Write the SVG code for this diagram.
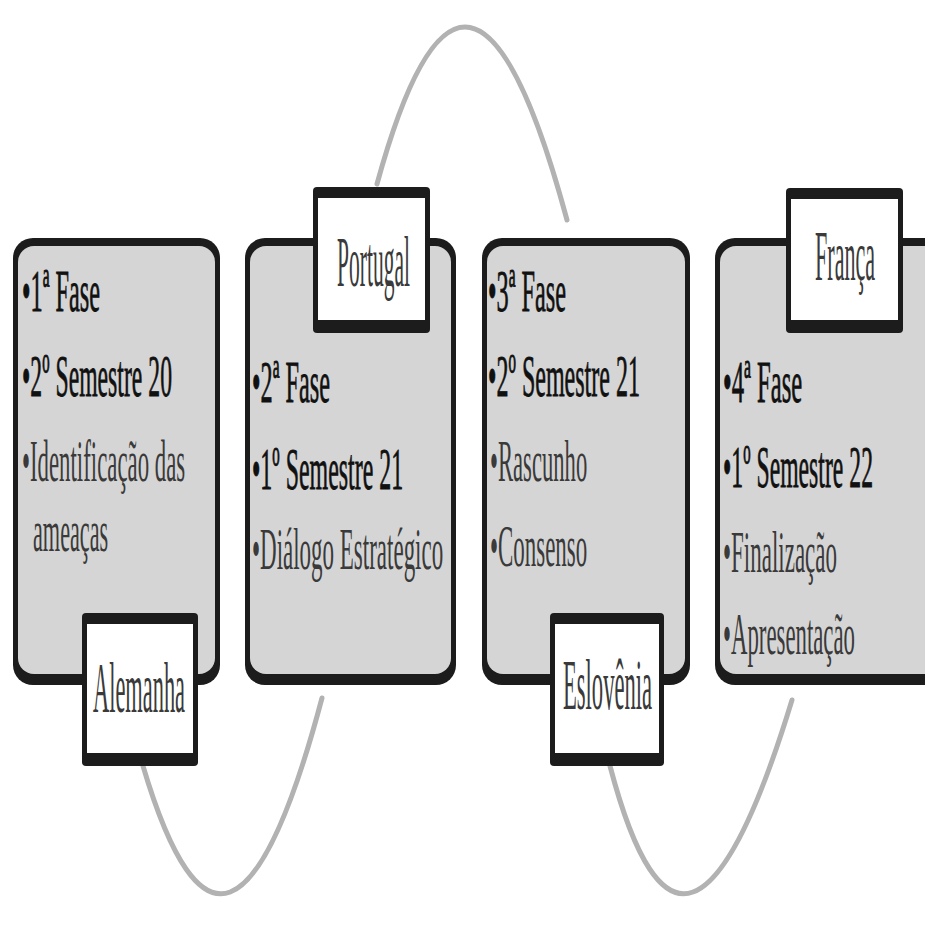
<svg xmlns="http://www.w3.org/2000/svg" width="925" height="933" viewBox="0 0 925 933">
<style>
.outer{fill:#1c1c1c}
.inner{fill:#d5d5d5}
.lab{fill:#ffffff}
.arc{fill:none;stroke:#b2b2b2;stroke-width:5;stroke-linecap:round}
.t{font-family:"Liberation Serif","Times New Roman",serif;font-size:60px}
.b{fill:#111111;stroke:#111111;stroke-width:0.8}
.n{fill:#3a3a3a}
.lt{font-family:"Liberation Serif","Times New Roman",serif;font-size:72px;fill:#3a3a3a}
</style>
<rect width="925" height="933" fill="#ffffff"/>
<g id="connectors">
<path class="arc" d="M143,766 Q228,1052 322,698"/>
<path class="arc" d="M377,184 Q468,-147 567,220"/>
<path class="arc" d="M610,766 Q685,1051 792,700"/>
</g>
<g id="fase1">
<rect class="outer" x="13" y="238" width="207" height="447" rx="20"/>
<rect class="inner" x="18" y="246" width="197" height="428" rx="16"/>
<text class="t b" transform="translate(22,311) scale(0.4,1)" textLength="195" lengthAdjust="spacingAndGlyphs">•1ª Fase</text>
<text class="t b" transform="translate(22,396) scale(0.4,1)" textLength="375" lengthAdjust="spacingAndGlyphs">•2º Semestre 20</text>
<text class="t n" transform="translate(22,481) scale(0.4,1)" textLength="408" lengthAdjust="spacingAndGlyphs">•Identificação das</text>
<text class="t n" transform="translate(33,551) scale(0.4,1)" textLength="188" lengthAdjust="spacingAndGlyphs">ameaças</text>
</g>
<g id="fase2">
<rect class="outer" x="245" y="238" width="211" height="447" rx="20"/>
<rect class="inner" x="250" y="246" width="201" height="428" rx="16"/>
<text class="t b" transform="translate(252,402) scale(0.4,1)" textLength="195" lengthAdjust="spacingAndGlyphs">•2ª Fase</text>
<text class="t b" transform="translate(252,489) scale(0.4,1)" textLength="378" lengthAdjust="spacingAndGlyphs">•1º Semestre 21</text>
<text class="t n" transform="translate(252,569) scale(0.4,1)" textLength="478" lengthAdjust="spacingAndGlyphs">•Diálogo Estratégico</text>
</g>
<g id="fase3">
<rect class="outer" x="482" y="238" width="208" height="447" rx="20"/>
<rect class="inner" x="487" y="246" width="198" height="428" rx="16"/>
<text class="t b" transform="translate(488,311) scale(0.4,1)" textLength="195" lengthAdjust="spacingAndGlyphs">•3ª Fase</text>
<text class="t b" transform="translate(488,396) scale(0.4,1)" textLength="380" lengthAdjust="spacingAndGlyphs">•2º Semestre 21</text>
<text class="t n" transform="translate(490,481) scale(0.4,1)" textLength="243" lengthAdjust="spacingAndGlyphs">•Rascunho</text>
<text class="t n" transform="translate(490,566) scale(0.4,1)" textLength="243" lengthAdjust="spacingAndGlyphs">•Consenso</text>
</g>
<g id="fase4">
<rect class="outer" x="715" y="238" width="230" height="447" rx="20"/>
<rect class="inner" x="720" y="246" width="220" height="428" rx="16"/>
<text class="t b" transform="translate(723,402) scale(0.4,1)" textLength="198" lengthAdjust="spacingAndGlyphs">•4ª Fase</text>
<text class="t b" transform="translate(723,487) scale(0.4,1)" textLength="375" lengthAdjust="spacingAndGlyphs">•1º Semestre 22</text>
<text class="t n" transform="translate(723,572) scale(0.4,1)" textLength="285" lengthAdjust="spacingAndGlyphs">•Finalização</text>
<text class="t n" transform="translate(723,654) scale(0.4,1)" textLength="330" lengthAdjust="spacingAndGlyphs">•Apresentação</text>
</g>
<g id="alemanha">
<rect class="outer" x="82" y="613" width="116" height="153" rx="4"/>
<rect class="lab" x="87" y="624" width="106" height="129"/>
<text class="lt" transform="translate(93,712) scale(0.33,1)" textLength="279" lengthAdjust="spacingAndGlyphs">Alemanha</text>
</g>
<g id="portugal">
<rect class="outer" x="313" y="187" width="117" height="146" rx="4"/>
<rect class="lab" x="318" y="198" width="107" height="122"/>
<text class="lt" transform="translate(337,286) scale(0.33,1)" textLength="221" lengthAdjust="spacingAndGlyphs">Portugal</text>
</g>
<g id="eslovenia">
<rect class="outer" x="550" y="613" width="114" height="153" rx="4"/>
<rect class="lab" x="555" y="624" width="104" height="129"/>
<text class="lt" transform="translate(563,709) scale(0.33,1)" textLength="270" lengthAdjust="spacingAndGlyphs">Eslovênia</text>
</g>
<g id="franca">
<rect class="outer" x="786" y="188" width="117" height="145" rx="4"/>
<rect class="lab" x="791" y="199" width="107" height="121"/>
<text class="lt" transform="translate(815,280) scale(0.33,1)" textLength="182" lengthAdjust="spacingAndGlyphs">França</text>
</g>
</svg>
